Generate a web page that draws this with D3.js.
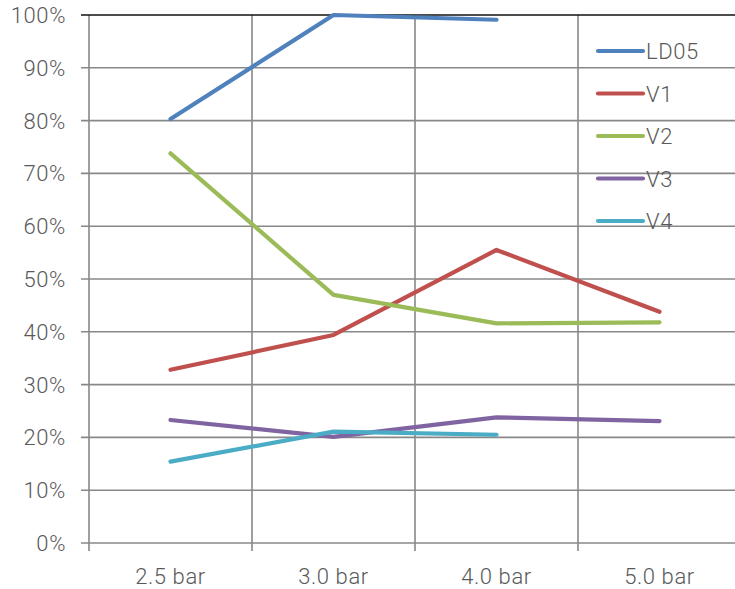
<!DOCTYPE html>
<html>
<head>
<meta charset="utf-8">
<script src="https://cdn.jsdelivr.net/npm/d3@7/dist/d3.min.js"></script>
<style>
  html, body { margin: 0; padding: 0; background: #fff; }
  svg { display: block; }
  text { font-family: Roboto, "DejaVu Sans", sans-serif; font-weight: 300; fill: #595959; letter-spacing: 0.6px; }
</style>
</head>
<body>
<svg id="chart" width="735" height="589"></svg>
<script>
const categories = ["2.5 bar", "3.0 bar", "4.0 bar", "5.0 bar"];
const seriesNames = ["LD05", "V1", "V2", "V3", "V4"];
const seriesColors = ["#4F81BD", "#C0504D", "#9BBB59", "#8064A2", "#4BACC6"];
// shares in percent; null where there is no measurement
const ld05 = [80.3, 100, 99.1, null];
const v1 = [32.8, 39.4, 55.5, 43.8];
const v2 = [73.8, 47.0, 41.6, 41.8];
const v3 = [23.3, 20.1, 23.8, 23.1];
const v4 = [15.4, 21.1, 20.5, null];
const yTicks = [0, 10, 20, 30, 40, 50, 60, 70, 80, 90, 100];

const series = [ld05, v1, v2, v3, v4];

const svg = d3.select("#chart");
const plotLeft = 89, plotRight = 741, plotTop = 15, plotBottom = 543;

const x = d3.scaleBand().domain(categories).range([plotLeft, plotRight]).paddingInner(0).paddingOuter(0);
const y = d3.scaleLinear().domain([0, 100]).range([plotBottom, plotTop]);

const grid = svg.append("g");
// horizontal gridlines with tick stubs to the left of the axis
grid.selectAll("line.h").data(yTicks.filter(d => d < 100)).join("line")
  .attr("x1", plotLeft - 8).attr("x2", 735)
  .attr("y1", d => y(d)).attr("y2", d => y(d))
  .attr("stroke", "#888").attr("stroke-width", 1.6);
// vertical gridlines at category boundaries, stubs below the axis
const bounds = categories.map(c => x(c));
grid.selectAll("line.v").data(bounds).join("line")
  .attr("x1", d => d).attr("x2", d => d)
  .attr("y1", plotTop).attr("y2", plotBottom + 8)
  .attr("stroke", "#888").attr("stroke-width", 1.6);
// top border line
grid.append("line")
  .attr("x1", plotLeft - 8).attr("x2", 735)
  .attr("y1", y(100)).attr("y2", y(100))
  .attr("stroke", "#111").attr("stroke-width", 1.6);

// y labels
svg.append("g").selectAll("text").data(yTicks).join("text")
  .attr("x", 66).attr("y", d => y(d) + 8)
  .attr("text-anchor", "end").attr("font-size", 22)
  .text(d => d + "%");

// x labels
svg.append("g").selectAll("text").data(categories).join("text")
  .attr("x", d => x(d) + x.bandwidth() / 2).attr("y", 584)
  .attr("text-anchor", "middle").attr("font-size", 22)
  .text(d => d);

// lines
const line = d3.line()
  .defined(d => d.v != null)
  .x(d => x(d.c) + x.bandwidth() / 2)
  .y(d => y(d.v));

svg.append("g").selectAll("path").data(series).join("path")
  .attr("d", s => line(s.map((v, i) => ({ c: categories[i], v }))))
  .attr("fill", "none")
  .attr("stroke", (s, i) => seriesColors[i])
  .attr("stroke-width", 4.2)
  .attr("stroke-linecap", "round")
  .attr("stroke-linejoin", "round");

// legend
const legend = svg.append("g");
const ly = d3.scalePoint().domain(seriesNames).range([51, 221]);
legend.selectAll("line").data(seriesNames).join("line")
  .attr("x1", 598).attr("x2", 643)
  .attr("y1", d => ly(d)).attr("y2", d => ly(d))
  .attr("stroke", (d, i) => seriesColors[i])
  .attr("stroke-width", 4.2).attr("stroke-linecap", "round");
legend.selectAll("text").data(seriesNames).join("text")
  .attr("x", 646).attr("y", d => ly(d) + 8)
  .attr("font-size", 22)
  .text(d => d);
</script>
</body>
</html>
